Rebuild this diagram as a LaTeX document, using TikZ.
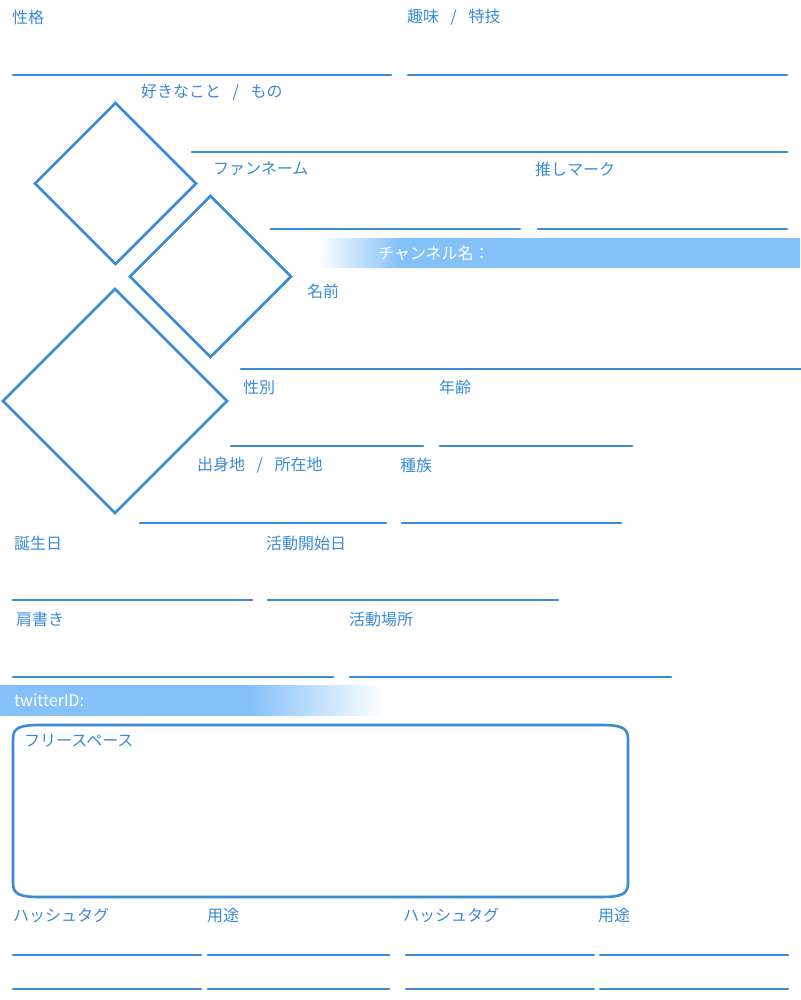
\documentclass[tikz,border=0pt]{standalone}
\usepackage{fontspec}
\setmainfont{Noto Sans CJK JP}
\definecolor{ln}{HTML}{3A8AD6}
\definecolor{bar}{HTML}{85C1F9}
\newcommand{\sls}{\hspace{0.72em}/\hspace{0.72em}}
\begin{document}
\begin{tikzpicture}[x=1pt,y=-1pt,
  lbl/.style={anchor=west,inner sep=0pt,text=ln,font=\fontsize{16}{16}\selectfont},
  wlbl/.style={anchor=west,inner sep=0pt,text=white,font=\fontsize{16}{16}\selectfont},
  rule/.style={draw=ln,line width=2.8pt,line cap=round},
  dia/.style={draw=ln,line width=2.6pt,line join=miter}]
\useasboundingbox (0,0) rectangle (800,1000);
% bars
\foreach \i in {0,...,81}{
  \pgfmathsetmacro\p{100*\i/81}
  \fill[bar!\p!white] (318+\i,238) rectangle (319.3+\i,268);
}
\fill[bar] (399.5,238) rectangle (800,268);
\fill[bar] (0,685) rectangle (250.5,716);
\foreach \i in {0,...,135}{
  \pgfmathsetmacro\p{100-100*\i/135}
  \fill[bar!\p!white] (250+\i,685) rectangle (251.3+\i,716);
}
% rules
\draw[rule] (13,75) -- (391,75);
\draw[rule] (408,75) -- (787,75);
\draw[rule] (192,152) -- (787,152);
\draw[rule] (271,229) -- (520,229);
\draw[rule] (538,229) -- (787,229);
\draw[rule] (241,369) -- (801,369);
\draw[rule] (231,446) -- (423,446);
\draw[rule] (440,446) -- (632,446);
\draw[rule] (140,523) -- (386,523);
\draw[rule] (402,523) -- (621,523);
\draw[rule] (13,600) -- (252,600);
\draw[rule] (268,600) -- (558,600);
\draw[rule] (13,677) -- (333,677);
\draw[rule] (350,677) -- (671,677);
\foreach \y in {955,989}{
  \draw[rule] (13,\y) -- (201,\y);
  \draw[rule] (208,\y) -- (389,\y);
  \draw[rule] (406,\y) -- (594,\y);
  \draw[rule] (600,\y) -- (788,\y);
}
% diamonds
\draw[dia] (115.5,103) -- (196,183.5) -- (115.5,264) -- (35,183.5) -- cycle;
\draw[dia] (210.5,196) -- (291,276.5) -- (210.5,357) -- (130,276.5) -- cycle;
\draw[dia] (115,289) -- (227,401) -- (115,513) -- (3,401) -- cycle;
% free space box
\draw[draw=ln,line width=2.6pt]
  (40,725) -- (601,725) .. controls (622,725) and (628,728) .. (628,739)
  -- (628,883) .. controls (628,894) and (622,897) .. (601,897)
  -- (40,897) .. controls (19,897) and (13,894) .. (13,883)
  -- (13,739) .. controls (13,728) and (19,725) .. (40,725) -- cycle;
% labels
\node[lbl] (seikaku) at (12,17) {性格};
\node[lbl] (shumi) at (407,17) {趣味\sls 特技};
\node[lbl] (suki) at (141,92) {好きなこと\sls もの};
\node[lbl] (fan) at (213,169) {ファンネーム};
\node[lbl] (oshi) at (535,169) {推しマーク};
\node[wlbl] (ch) at (378,253) {チャンネル名：};
\node[lbl] (namae) at (307,291) {名前};
\node[lbl] (seibetsu) at (243,387) {性別};
\node[lbl] (nenrei) at (439,387) {年齢};
\node[lbl] (shusshin) at (197,465) {出身地\sls 所在地};
\node[lbl] (shuzoku) at (400,465) {種族};
\node[lbl] (tanjo) at (14,543) {誕生日};
\node[lbl] (kaishi) at (266,543) {活動開始日};
\node[lbl] (kata) at (16,619) {肩書き};
\node[lbl] (basho) at (349,619) {活動場所};
\node[wlbl] (tw) at (14,700) {twitterID:};
\node[lbl] (free) at (24,741) {フリースペース};
\node[lbl] (h1) at (13,915) {ハッシュタグ};
\node[lbl] (y1) at (207,915) {用途};
\node[lbl] (h2) at (403,915) {ハッシュタグ};
\node[lbl] (y2) at (598,915) {用途};
\end{tikzpicture}
\end{document}
